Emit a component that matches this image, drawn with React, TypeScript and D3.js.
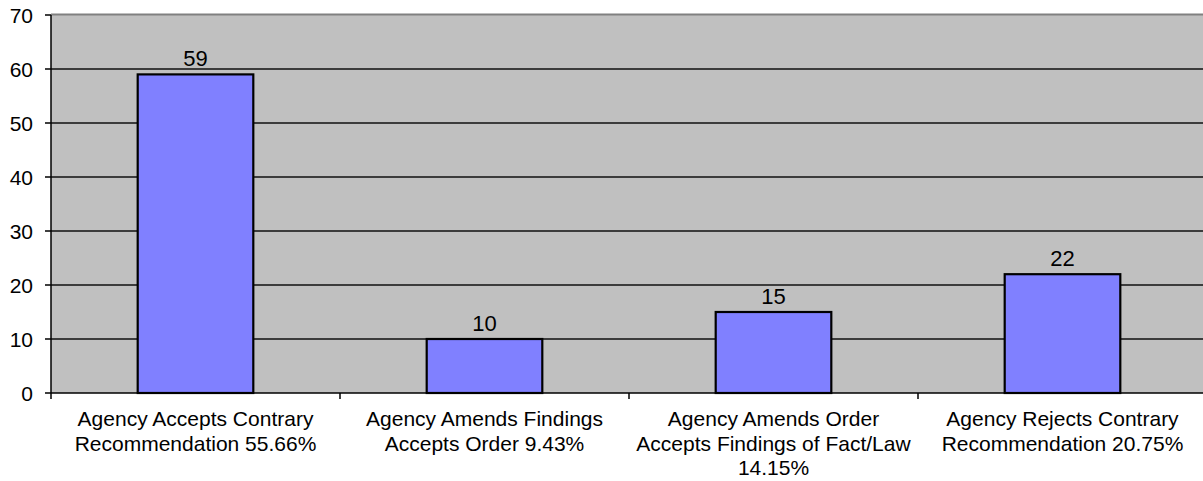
import React from "react";
import * as d3 from "d3";

// Agency decisions on contrary recommendations
const categories = [
  "Accepts Contrary",
  "Amends Findings",
  "Amends Order",
  "Rejects Contrary",
];
const counts = [59, 10, 15, 22];
const categoryLabelLines = [
  ["Agency Accepts Contrary", "Recommendation 55.66%"],
  ["Agency Amends Findings", "Accepts Order 9.43%"],
  ["Agency Amends Order", "Accepts Findings of Fact/Law", "14.15%"],
  ["Agency Rejects Contrary", "Recommendation 20.75%"],
];
const yTicks = [0, 10, 20, 30, 40, 50, 60, 70];

const W = 1203;
const H = 481;
const plotLeft = 51;
const plotRight = 1207;
const plotTop = 15;
const plotBottom = 393;
const font = "'Liberation Sans', Arial, sans-serif";

export default function App() {
  const xBand = d3
    .scaleBand<string>()
    .domain(categories)
    .range([plotLeft, plotRight])
    .paddingInner(0)
    .paddingOuter(0);
  const xBar = d3
    .scaleBand<string>()
    .domain(categories)
    .range([plotLeft, plotRight])
    .paddingInner(0.6)
    .paddingOuter(0.3);
  const y = d3.scaleLinear().domain([0, 70]).range([plotBottom, plotTop]);

  const boundaries = categories.map((c) => xBand(c) as number).concat([plotRight]);

  return (
    <svg
      width={W}
      height={H}
      style={{ position: "absolute", left: 0, top: 0, background: "#fff" }}
      fontFamily={font}
    >
      {/* plot area */}
      <rect
        x={plotLeft}
        y={plotTop}
        width={plotRight - plotLeft}
        height={plotBottom - plotTop}
        fill="#C0C0C0"
      />
      <line
        x1={plotLeft}
        x2={plotRight}
        y1={plotTop - 0.5}
        y2={plotTop - 0.5}
        stroke="#808080"
        strokeWidth={2}
      />
      {/* gridlines */}
      {yTicks
        .filter((t) => t > 0 && t < 70)
        .map((t) => (
          <line
            key={"g" + t}
            x1={plotLeft}
            x2={plotRight}
            y1={y(t)}
            y2={y(t)}
            stroke="#111"
            strokeWidth={1.5}
          />
        ))}
      {/* bars */}
      {categories.map((c, i) => (
        <rect
          key={"b" + c}
          x={xBar(c)}
          y={y(counts[i])}
          width={xBar.bandwidth()}
          height={y(0) - y(counts[i])}
          fill="#8080FF"
          stroke="#000"
          strokeWidth={2.2}
        />
      ))}
      {/* value labels */}
      {categories.map((c, i) => (
        <text
          key={"v" + c}
          x={(xBar(c) as number) + xBar.bandwidth() / 2}
          y={y(counts[i]) - 8}
          textAnchor="middle"
          fontSize={22}
          fill="#000"
        >
          {counts[i]}
        </text>
      ))}
      {/* y axis */}
      <line x1={plotLeft} x2={plotLeft} y1={plotTop} y2={plotBottom} stroke="#000" strokeWidth={1.5} />
      {yTicks.map((t) => (
        <g key={"y" + t}>
          <line x1={plotLeft - 6} x2={plotLeft} y1={y(t)} y2={y(t)} stroke="#000" strokeWidth={1.5} />
          <text
            x={33}
            y={y(t)}
            dy="0.36em"
            textAnchor="end"
            fontSize={21}
            fill="#000"
          >
            {t}
          </text>
        </g>
      ))}
      {/* x axis */}
      <line x1={plotLeft} x2={plotRight} y1={plotBottom} y2={plotBottom} stroke="#000" strokeWidth={1.5} />
      {boundaries.map((bx, i) => (
        <line
          key={"xt" + i}
          x1={bx}
          x2={bx}
          y1={plotBottom}
          y2={plotBottom + 6}
          stroke="#000"
          strokeWidth={1.5}
        />
      ))}
      {categories.map((c, i) => (
        <text
          key={"x" + c}
          x={(xBand(c) as number) + xBand.bandwidth() / 2}
          y={426}
          textAnchor="middle"
          fontSize={21}
          fill="#000"
        >
          {categoryLabelLines[i].map((line, j) => (
            <tspan key={j} x={(xBand(c) as number) + xBand.bandwidth() / 2} dy={j === 0 ? 0 : 24.5}>
              {line}
            </tspan>
          ))}
        </text>
      ))}
    </svg>
  );
}
